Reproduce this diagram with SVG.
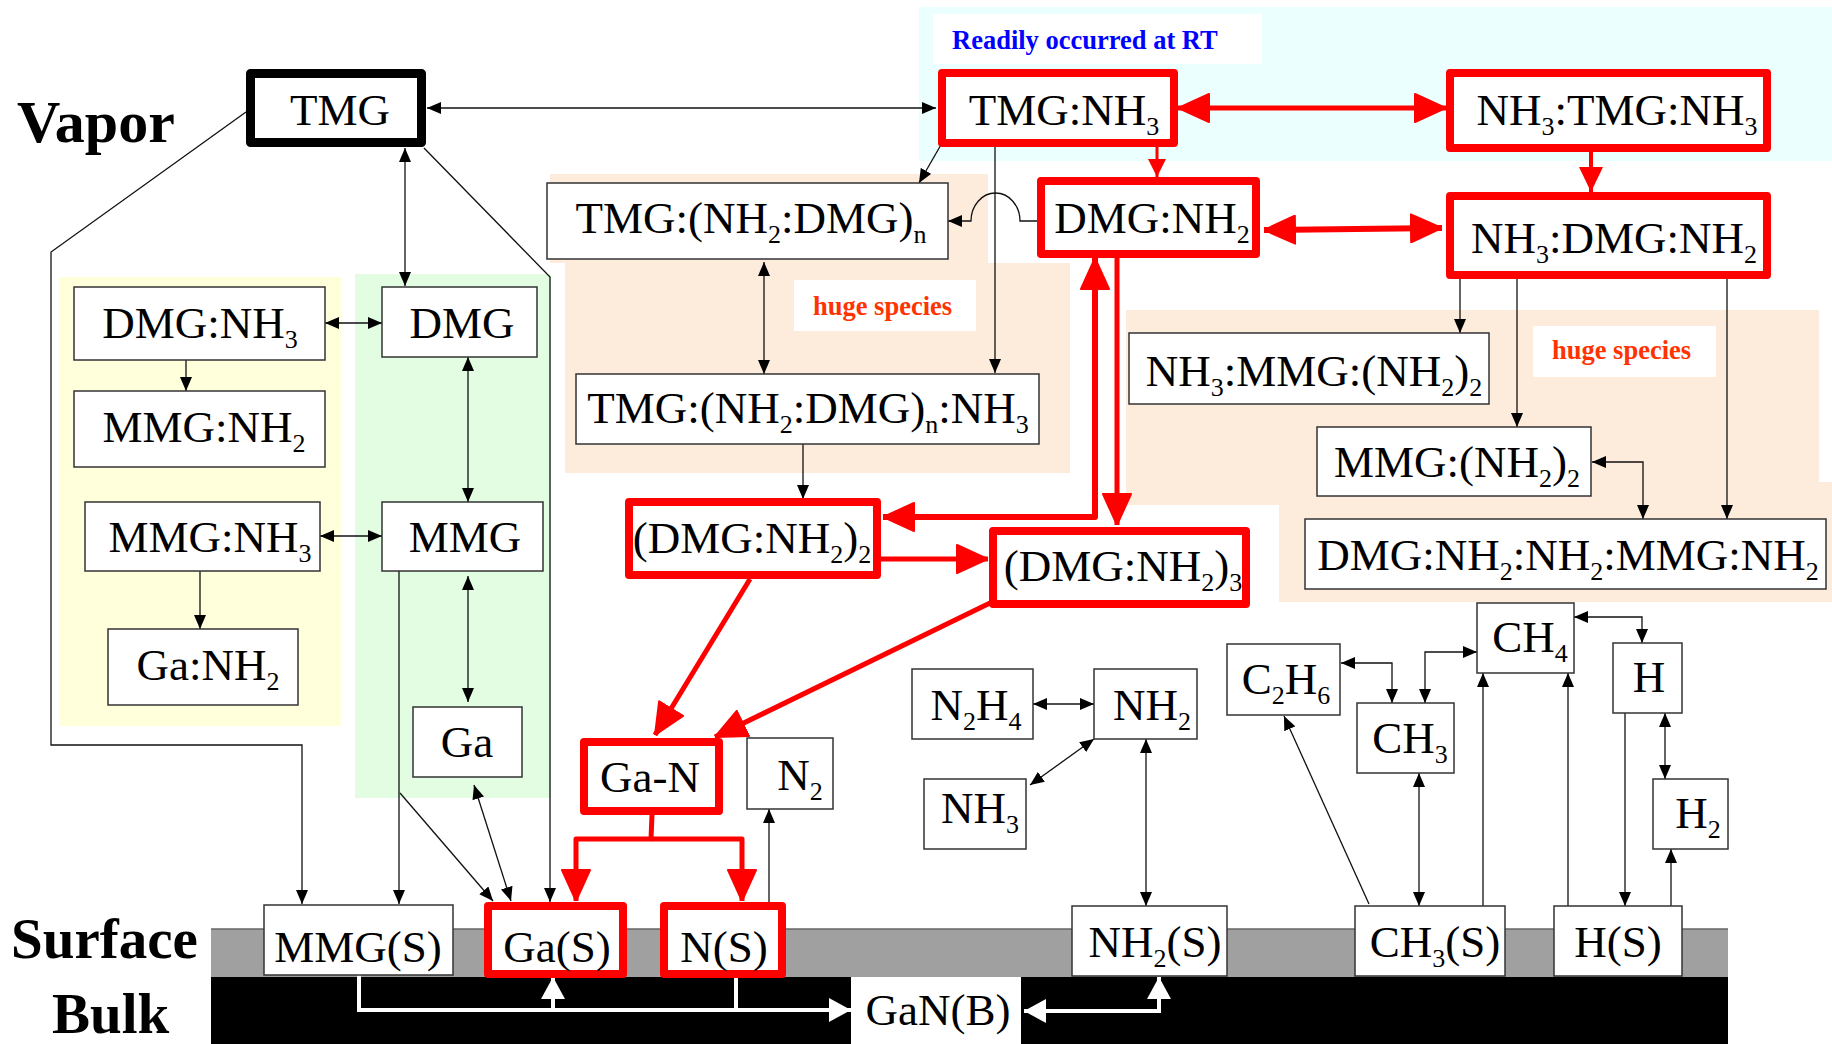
<svg xmlns="http://www.w3.org/2000/svg" width="1832" height="1044" viewBox="0 0 1832 1044">
<defs>
<style>
text{font-family:"Liberation Serif","Times New Roman",serif;fill:#000}
.t{font-size:45px;text-anchor:middle}
.s{font-size:26px}
.big{font-size:57px;font-weight:bold}
.note{font-size:26.5px;font-weight:bold}
.box{fill:#fff;stroke:#333;stroke-width:1.5}
.rbox{fill:#fff;stroke:#f00;stroke-width:8;stroke-linejoin:round}
.ln{fill:none;stroke:#111;stroke-width:1.3}
.rl{fill:none;stroke:#f00;stroke-linejoin:round}
.wl{fill:none;stroke:#fff;stroke-width:4}
</style>
<marker id="ah" markerUnits="userSpaceOnUse" markerWidth="14" markerHeight="12" refX="14" refY="6" orient="auto-start-reverse"><path d="M0,0L14,6L0,12z" fill="#000"/></marker>
<marker id="rb" markerUnits="userSpaceOnUse" markerWidth="32" markerHeight="30" refX="32" refY="15" orient="auto-start-reverse"><path d="M1,1L32,15L1,29z" fill="#f00" stroke="#f00" stroke-width="2" stroke-linejoin="round"/></marker>
<marker id="rm" markerUnits="userSpaceOnUse" markerWidth="25" markerHeight="24" refX="25" refY="12" orient="auto-start-reverse"><path d="M0,0L25,12L0,24z" fill="#f00"/></marker>
<marker id="rs" markerUnits="userSpaceOnUse" markerWidth="18" markerHeight="18" refX="18" refY="9" orient="auto-start-reverse"><path d="M0,0L18,9L0,18z" fill="#f00"/></marker>
<marker id="wh" markerUnits="userSpaceOnUse" markerWidth="22" markerHeight="24" refX="22" refY="12" orient="auto-start-reverse"><path d="M0,0L22,12L0,24z" fill="#fff"/></marker>
</defs>

<!-- shaded zones -->
<g id="zones">
<rect x="919" y="7" width="913" height="154" fill="#ecffff"/>
<rect x="933" y="14" width="329" height="50" fill="#fff"/>
<path d="M550,174H988V263H1070V473H565V263H550Z" fill="#fdebdc"/>
<path d="M1126,310H1819V482H1832V602H1279V505H1126Z" fill="#fdebdc"/>
<rect x="59" y="277" width="282" height="449" fill="#ffffdc"/>
<rect x="355" y="274" width="196" height="524" fill="#e3fde3"/>
<rect x="794" y="280" width="182" height="51" fill="#fff"/>
<rect x="1533" y="326" width="183" height="51" fill="#fff"/>
<rect x="211" y="929" width="1517" height="48" fill="#a0a0a0"/>
<line x1="211" y1="929" x2="1728" y2="929" stroke="#666" stroke-width="1.5"/>
<rect x="211" y="977" width="1517" height="67" fill="#000"/>
</g>

<!-- zone labels -->
<g id="labels">
<text class="big" x="17" y="142" style="font-size:60px">Vapor</text>
<text class="big" x="11" y="958">Surface</text>
<text class="big" x="52" y="1033">Bulk</text>
<text class="note" x="952" y="49" style="fill:#00f">Readily occurred at RT</text>
<text class="note" x="813" y="315" style="fill:#ff3300">huge species</text>
<text class="note" x="1552" y="359" style="fill:#ff3300">huge species</text>
</g>

<!-- connectors -->
<g id="connectors">
<g class="ln">
<path d="M427,108H936" marker-start="url(#ah)" marker-end="url(#ah)"/>
<path d="M246,112L51,252V745H302V904" marker-end="url(#ah)"/>
<path d="M424,148L550,277V902" marker-end="url(#ah)"/>
<path d="M405,148V286" marker-start="url(#ah)" marker-end="url(#ah)"/>
<path d="M325,323H382" marker-start="url(#ah)" marker-end="url(#ah)"/>
<path d="M186,360V391" marker-end="url(#ah)"/>
<path d="M468,357V502" marker-start="url(#ah)" marker-end="url(#ah)"/>
<path d="M320,536H382" marker-start="url(#ah)" marker-end="url(#ah)"/>
<path d="M200,571V629" marker-end="url(#ah)"/>
<path d="M468,576V702" marker-start="url(#ah)" marker-end="url(#ah)"/>
<path d="M399,571V904" marker-end="url(#ah)"/>
<path d="M400,793L493,901" marker-end="url(#ah)"/>
<path d="M474,785L511,901" marker-start="url(#ah)" marker-end="url(#ah)"/>
<path d="M942,143L919,183" marker-end="url(#ah)"/>
<path d="M995,147V373" marker-end="url(#ah)"/>
<path d="M1037,221H1020A24.5,28 0 0 0 971,221H948" marker-end="url(#ah)"/>
<path d="M764,262V374" marker-start="url(#ah)" marker-end="url(#ah)"/>
<path d="M803,444V499" marker-end="url(#ah)"/>
<path d="M1460,279V333" marker-end="url(#ah)"/>
<path d="M1517,279V427" marker-end="url(#ah)"/>
<path d="M1727,279V519" marker-end="url(#ah)"/>
<path d="M1592,462H1643V519" marker-start="url(#ah)" marker-end="url(#ah)"/>
<path d="M769,904V809" marker-end="url(#ah)"/>
<path d="M1033,704H1094" marker-start="url(#ah)" marker-end="url(#ah)"/>
<path d="M1094,739L1030,785" marker-start="url(#ah)" marker-end="url(#ah)"/>
<path d="M1146,739V906" marker-start="url(#ah)" marker-end="url(#ah)"/>
<path d="M1369,904L1284,716" marker-end="url(#ah)"/>
<path d="M1341,663H1392V703" marker-start="url(#ah)" marker-end="url(#ah)"/>
<path d="M1425,703V652H1477" marker-start="url(#ah)" marker-end="url(#ah)"/>
<path d="M1419,773V906" marker-start="url(#ah)" marker-end="url(#ah)"/>
<path d="M1483,906V673" marker-end="url(#ah)"/>
<path d="M1568,906V673" marker-end="url(#ah)"/>
<path d="M1574,617H1642V643" marker-start="url(#ah)" marker-end="url(#ah)"/>
<path d="M1625,713V906" marker-end="url(#ah)"/>
<path d="M1665,713V779" marker-start="url(#ah)" marker-end="url(#ah)"/>
<path d="M1671,906V849" marker-end="url(#ah)"/>
</g>
<g class="rl">
<path d="M1178,108H1446" stroke-width="5" marker-start="url(#rb)" marker-end="url(#rb)"/>
<path d="M1157,147V177" stroke-width="3" marker-end="url(#rs)"/>
<path d="M1591,152V192" stroke-width="4" marker-end="url(#rm)"/>
<path d="M1264,230L1442,228" stroke-width="6" marker-start="url(#rb)" marker-end="url(#rb)"/>
<path d="M883,517H1095V258" stroke-width="6" marker-start="url(#rb)" marker-end="url(#rb)"/>
<path d="M1117,258V525" stroke-width="5" marker-end="url(#rb)"/>
<path d="M881,559H988" stroke-width="5" marker-end="url(#rb)"/>
<path d="M750,579L655,735" stroke-width="5" marker-end="url(#rb)"/>
<path d="M990,603L715,737" stroke-width="5" marker-end="url(#rb)"/>
<path d="M652,815L651,839H576V901" stroke-width="5" marker-end="url(#rb)"/>
<path d="M651,839H742V901" stroke-width="5" marker-end="url(#rb)"/>
</g>
<g class="wl">
<path d="M359,975V1010H851" marker-end="url(#wh)"/>
<path d="M553,1010V977" marker-end="url(#wh)"/>
<path d="M736,978V1010"/>
<path d="M1024,1011H1159V977" marker-start="url(#wh)" marker-end="url(#wh)"/>
</g>
</g>

<!-- vapour species -->
<g id="n-TMG"><rect x="250.5" y="73.5" width="171" height="69" fill="#fff" stroke="#000" stroke-width="9" stroke-linejoin="round"/><text class="t" x="340" y="125">TMG</text></g>
<g id="n-TMG-NH3"><rect class="rbox" x="942" y="73" width="232" height="70"/><text class="t" x="1064" y="125">TMG:NH<tspan class="s" dy="10">3</tspan></text></g>
<g id="n-NH3-TMG-NH3"><rect class="rbox" x="1450" y="73" width="317" height="75"/><text class="t" x="1617" y="125">NH<tspan class="s" dy="10">3</tspan><tspan dy="-10">:TMG:NH</tspan><tspan class="s" dy="10">3</tspan></text></g>
<g id="n-DMG-NH2"><rect class="rbox" x="1041" y="181" width="215" height="73"/><text class="t" x="1152" y="233">DMG:NH<tspan class="s" dy="10">2</tspan></text></g>
<g id="n-NH3-DMG-NH2"><rect class="rbox" x="1450" y="196" width="317" height="79"/><text class="t" x="1614" y="253">NH<tspan class="s" dy="10">3</tspan><tspan dy="-10">:DMG:NH</tspan><tspan class="s" dy="10">2</tspan></text></g>
<g id="n-TMG-NH2DMGn"><rect class="box" x="547" y="183" width="401" height="76"/><text class="t" x="751" y="233">TMG:(NH<tspan class="s" dy="10">2</tspan><tspan dy="-10">:DMG)</tspan><tspan class="s" dy="10">n</tspan></text></g>
<g id="n-TMG-NH2DMGn-NH3"><rect class="box" x="576" y="374" width="463" height="70"/><text class="t" x="808" y="423">TMG:(NH<tspan class="s" dy="10">2</tspan><tspan dy="-10">:DMG)</tspan><tspan class="s" dy="10">n</tspan><tspan dy="-10">:NH</tspan><tspan class="s" dy="10">3</tspan></text></g>
<g id="n-DMGNH2-2"><rect class="rbox" x="629" y="502" width="248" height="73"/><text class="t" x="752" y="553">(DMG:NH<tspan class="s" dy="10">2</tspan><tspan dy="-10">)</tspan><tspan class="s" dy="10">2</tspan></text></g>
<g id="n-DMGNH2-3"><rect class="rbox" x="993" y="531" width="253" height="73"/><text class="t" x="1123" y="581">(DMG:NH<tspan class="s" dy="10">2</tspan><tspan dy="-10">)</tspan><tspan class="s" dy="10">3</tspan></text></g>
<g id="n-NH3-MMG-NH22"><rect class="box" x="1129" y="333" width="360" height="71"/><text class="t" x="1314" y="386">NH<tspan class="s" dy="10">3</tspan><tspan dy="-10">:MMG:(NH</tspan><tspan class="s" dy="10">2</tspan><tspan dy="-10">)</tspan><tspan class="s" dy="10">2</tspan></text></g>
<g id="n-MMG-NH22"><rect class="box" x="1317" y="427" width="274" height="69"/><text class="t" x="1457" y="477">MMG:(NH<tspan class="s" dy="10">2</tspan><tspan dy="-10">)</tspan><tspan class="s" dy="10">2</tspan></text></g>
<g id="n-DMG-NH2-NH2-MMG-NH2"><rect class="box" x="1305" y="519" width="521" height="70"/><text class="t" x="1568" y="570">DMG:NH<tspan class="s" dy="10">2</tspan><tspan dy="-10">:NH</tspan><tspan class="s" dy="10">2</tspan><tspan dy="-10">:MMG:NH</tspan><tspan class="s" dy="10">2</tspan></text></g>
<g id="n-DMG-NH3"><rect class="box" x="74" y="287" width="251" height="73"/><text class="t" x="200" y="338">DMG:NH<tspan class="s" dy="10">3</tspan></text></g>
<g id="n-MMG-NH2"><rect class="box" x="74" y="391" width="251" height="76"/><text class="t" x="204" y="442">MMG:NH<tspan class="s" dy="10">2</tspan></text></g>
<g id="n-MMG-NH3"><rect class="box" x="85" y="502" width="235" height="69"/><text class="t" x="210" y="552">MMG:NH<tspan class="s" dy="10">3</tspan></text></g>
<g id="n-Ga-NH2"><rect class="box" x="108" y="629" width="190" height="76"/><text class="t" x="208" y="680">Ga:NH<tspan class="s" dy="10">2</tspan></text></g>
<g id="n-DMG"><rect class="box" x="382" y="287" width="155" height="70"/><text class="t" x="462" y="338">DMG</text></g>
<g id="n-MMG"><rect class="box" x="382" y="502" width="161" height="69"/><text class="t" x="465" y="552">MMG</text></g>
<g id="n-Ga"><rect class="box" x="413" y="707" width="109" height="70"/><text class="t" x="467" y="757">Ga</text></g>
<g id="n-Ga-N"><rect class="rbox" x="584" y="742" width="135" height="69"/><text class="t" x="650" y="792">Ga-N</text></g>
<g id="n-N2"><rect class="box" x="747" y="738" width="86" height="71"/><text class="t" x="800" y="790">N<tspan class="s" dy="10">2</tspan></text></g>
<g id="n-N2H4"><rect class="box" x="912" y="669" width="121" height="70"/><text class="t" x="976" y="720">N<tspan class="s" dy="10">2</tspan><tspan dy="-10">H</tspan><tspan class="s" dy="10">4</tspan></text></g>
<g id="n-NH2"><rect class="box" x="1094" y="669" width="103" height="70"/><text class="t" x="1152" y="720">NH<tspan class="s" dy="10">2</tspan></text></g>
<g id="n-NH3"><rect class="box" x="924" y="779" width="102" height="70"/><text class="t" x="980" y="823">NH<tspan class="s" dy="10">3</tspan></text></g>
<g id="n-C2H6"><rect class="box" x="1227" y="644" width="113" height="71"/><text class="t" x="1286" y="694">C<tspan class="s" dy="10">2</tspan><tspan dy="-10">H</tspan><tspan class="s" dy="10">6</tspan></text></g>
<g id="n-CH3"><rect class="box" x="1357" y="703" width="97" height="70"/><text class="t" x="1410" y="753">CH<tspan class="s" dy="10">3</tspan></text></g>
<g id="n-CH4"><rect class="box" x="1477" y="603" width="97" height="70"/><text class="t" x="1530" y="652">CH<tspan class="s" dy="10">4</tspan></text></g>
<g id="n-H"><rect class="box" x="1613" y="643" width="69" height="70"/><text class="t" x="1649" y="692">H</text></g>
<g id="n-H2"><rect class="box" x="1653" y="779" width="75" height="70"/><text class="t" x="1698" y="828">H<tspan class="s" dy="10">2</tspan></text></g>

<!-- surface and bulk species -->
<g id="n-MMG-S"><rect class="box" x="264" y="905" width="189" height="70"/><text class="t" x="358" y="962">MMG(S)</text></g>
<g id="n-Ga-S"><rect class="rbox" x="488" y="906" width="135" height="68"/><text class="t" x="557" y="962">Ga(S)</text></g>
<g id="n-N-S"><rect class="rbox" x="664" y="906" width="118" height="68"/><text class="t" x="724" y="962">N(S)</text></g>
<g id="n-NH2-S"><rect class="box" x="1072" y="906" width="155" height="70"/><text class="t" x="1155" y="957">NH<tspan class="s" dy="10">2</tspan><tspan dy="-10">(S)</tspan></text></g>
<g id="n-CH3-S"><rect class="box" x="1355" y="906" width="150" height="70"/><text class="t" x="1435" y="957">CH<tspan class="s" dy="10">3</tspan><tspan dy="-10">(S)</tspan></text></g>
<g id="n-H-S"><rect class="box" x="1554" y="906" width="128" height="70"/><text class="t" x="1618" y="957">H(S)</text></g>
<g id="n-GaN-B"><rect x="851" y="977" width="170" height="67" fill="#fff"/><text class="t" x="938" y="1025">GaN(B)</text></g>
</svg>
